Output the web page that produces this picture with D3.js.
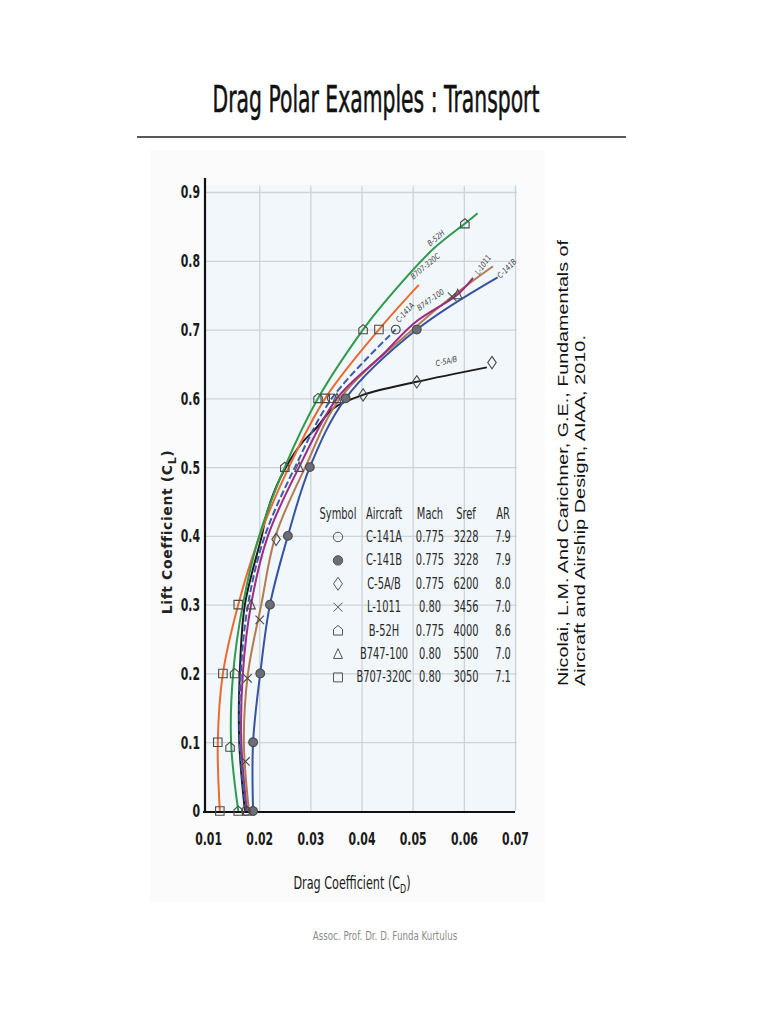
<!DOCTYPE html>
<html>
<head>
<meta charset="utf-8">
<script src="https://cdn.jsdelivr.net/npm/d3@7"></script>
<style>
  body { margin: 0; background: #fff; }
  svg { display: block; }
</style>
</head>
<body>
<svg id="chart"></svg>
<script>
// drag polars, each point is [CD, CL]
let b52h     = [[0.0159,0],[0.0145,0.1],[0.0149,0.2],[0.0168,0.3],[0.0200,0.4],[0.0250,0.5],[0.0315,0.6],[0.0403,0.7],[0.0442,0.737],[0.0540,0.817],[0.0602,0.854],[0.0627,0.869]];
let b707     = [[0.0123,0],[0.0119,0.1],[0.0129,0.2],[0.0159,0.3],[0.0201,0.4],[0.0258,0.5],[0.0329,0.6],[0.0434,0.7],[0.0512,0.765]];
let c141a    = [[0.0174,0],[0.0162,0.1],[0.0164,0.2],[0.0178,0.3],[0.0211,0.4],[0.0270,0.5],[0.0342,0.6],[0.0467,0.7]];
let b747     = [[0.0176,0],[0.0165,0.1],[0.0168,0.2],[0.0184,0.3],[0.0217,0.4],[0.0278,0.5],[0.0352,0.6],[0.0442,0.664],[0.0504,0.71],[0.0588,0.751],[0.0618,0.775]];
let l1011    = [[0.0180,0],[0.0170,0.1],[0.0178,0.2],[0.0204,0.3],[0.0232,0.4],[0.0290,0.5],[0.0358,0.6],[0.0500,0.7],[0.0577,0.748],[0.0657,0.792]];
let c141b    = [[0.0188,0],[0.0188,0.1],[0.0202,0.2],[0.0221,0.3],[0.0256,0.4],[0.0299,0.5],[0.0369,0.6],[0.0508,0.7],[0.0666,0.776]];
let c5ab     = [[0.0172,0],[0.0161,0.1],[0.0162,0.2],[0.0172,0.3],[0.0205,0.4],[0.0216,0.436],[0.0241,0.484],[0.0280,0.532],[0.0313,0.558],[0.0344,0.585],[0.0403,0.605],[0.0508,0.624],[0.0645,0.645]];

// symbol positions on each curve, [CD, CL]
let b52hMarks  = [[0.0159,0],[0.0143,0.093],[0.0152,0.2],[0.0250,0.5],[0.0315,0.6],[0.0403,0.7],[0.0602,0.854]];
let b707Marks  = [[0.0123,0],[0.0119,0.1],[0.0129,0.2],[0.0159,0.3],[0.0329,0.6],[0.0434,0.7]];
let c141aMarks = [[0.0174,0],[0.0342,0.6],[0.0467,0.7]];
let b747Marks  = [[0.0176,0],[0.0184,0.3],[0.0278,0.5],[0.0352,0.6],[0.0588,0.751]];
let l1011Marks = [[0.0173,0.072],[0.0177,0.193],[0.0201,0.278],[0.0577,0.748]];
let c141bMarks = [[0.0188,0],[0.0188,0.1],[0.0202,0.2],[0.0221,0.3],[0.0256,0.4],[0.0299,0.5],[0.0369,0.6],[0.0508,0.7]];
let c5abMarks  = [[0.0233,0.395],[0.0403,0.605],[0.0508,0.624],[0.0655,0.652]];

// handwritten curve labels: [CD, CL, angle]
let labelSpots = {
  'B-52H':     [0.0549, 0.830, -40],
  'B707-320C': [0.0528, 0.789, -40],
  'C-141A':    [0.0489, 0.722, -48],
  'B747-100':  [0.0538, 0.740, -35],
  'L-1011':    [0.0642, 0.792, -55],
  'C-141B':    [0.0688, 0.786, -45],
  'C-5A/B':    [0.0567, 0.650, -12]
};

// table in the middle of the plot
let tableHeads  = ['Symbol', 'Aircraft', 'Mach', 'Sref', 'AR'];
let tableCraft  = ['C-141A', 'C-141B', 'C-5A/B', 'L-1011', 'B-52H', 'B747-100', 'B707-320C'];
let tableMach   = ['0.775', '0.775', '0.775', '0.80', '0.775', '0.80', '0.80'];
let tableSref   = ['3228', '3228', '6200', '3456', '4000', '5500', '3050'];
let tableAR     = ['7.9', '7.9', '8.0', '7.0', '8.6', '7.0', '7.1'];

let xTicks = [0.01, 0.02, 0.03, 0.04, 0.05, 0.06, 0.07];
let yTicks = [0, 0.1, 0.2, 0.3, 0.4, 0.5, 0.6, 0.7, 0.8, 0.9];

let width = 768;
let height = 1024;
let sans = "'DejaVu Sans', sans-serif";

let svg = d3.select('#chart')
            .attr('width', width)
            .attr('height', height);

// marker shapes
let pentagon = {
  draw(ctx, size) {
    let r = Math.sqrt(size) / 2;
    ctx.moveTo(0, -r * 1.15);
    ctx.lineTo(r, -r * 0.3);
    ctx.lineTo(r, r);
    ctx.lineTo(-r, r);
    ctx.lineTo(-r, -r * 0.3);
    ctx.closePath();
  }
};
let tallDiamond = {
  draw(ctx, size) {
    let r = Math.sqrt(size) / 2;
    ctx.moveTo(0, -r * 1.45);
    ctx.lineTo(r, 0);
    ctx.lineTo(0, r * 1.45);
    ctx.lineTo(-r, 0);
    ctx.closePath();
  }
};
let cross = {
  draw(ctx, size) {
    let r = Math.sqrt(size) / 2;
    ctx.moveTo(-r, -r);
    ctx.lineTo(r, r);
    ctx.moveTo(r, -r);
    ctx.lineTo(-r, r);
  }
};
let triangle = {
  draw(ctx, size) {
    let r = Math.sqrt(size) / 2;
    ctx.moveTo(0, -r * 1.2);
    ctx.lineTo(r, r);
    ctx.lineTo(-r, r);
    ctx.closePath();
  }
};
let square = {
  draw(ctx, size) {
    let r = Math.sqrt(size) / 2;
    ctx.rect(-r, -r, 2 * r, 2 * r);
  }
};

let series = [
  { name: 'C-5A/B',    pts: c5ab,  marks: c5abMarks,  color: '#1c1c1c', dash: null,  shape: tallDiamond, fill: 'none' },
  { name: 'C-141B',    pts: c141b, marks: c141bMarks, color: '#3552a3', dash: null,  shape: d3.symbolCircle, fill: '#6b6e78' },
  { name: 'L-1011',    pts: l1011, marks: l1011Marks, color: '#b47b50', dash: null,  shape: cross, fill: 'none' },
  { name: 'B747-100',  pts: b747,  marks: b747Marks,  color: '#9d2a84', dash: null,  shape: triangle, fill: 'none' },
  { name: 'C-141A',    pts: c141a, marks: c141aMarks, color: '#3d5ca8', dash: '7,3', shape: d3.symbolCircle, fill: 'none' },
  { name: 'B707-320C', pts: b707,  marks: b707Marks,  color: '#ec6a2e', dash: null,  shape: square, fill: 'none' },
  { name: 'B-52H',     pts: b52h,  marks: b52hMarks,  color: '#2f9a4c', dash: null,  shape: pentagon, fill: 'none' }
];

// legend order follows the table
let legendShapes = [d3.symbolCircle, d3.symbolCircle, tallDiamond, cross, pentagon, triangle, square];
let legendFills  = ['none', '#6b6e78', 'none', 'none', 'none', 'none', 'none'];

let xScale = d3.scaleLinear().domain([0.0094, 0.07]).range([205, 515]);
let yScale = d3.scaleLinear().domain([0, 0.9]).range([811, 192]);

// title
svg.append('text')
   .attr('transform', 'translate(376, 112) scale(0.55, 1)')
   .attr('text-anchor', 'middle')
   .style('font-family', sans)
   .style('font-size', '37px')
   .style('fill', '#111')
   .style('stroke', '#111')
   .style('stroke-width', 0.6)
   .text('Drag Polar Examples : Transport');

svg.append('line')
   .attr('x1', 137).attr('x2', 626)
   .attr('y1', 137).attr('y2', 137)
   .attr('stroke', '#222')
   .attr('stroke-width', 1.6);

// scanned page area
svg.append('rect')
   .attr('x', 150).attr('y', 150)
   .attr('width', 395).attr('height', 752)
   .attr('fill', '#fbfbfb');

// plot background
svg.append('rect')
   .attr('x', xScale.range()[0]).attr('y', yScale(0.9) - 7)
   .attr('width', xScale(0.07) - xScale.range()[0] + 2)
   .attr('height', yScale(0) - yScale(0.9) + 9)
   .attr('fill', '#f1f7fb');

// grid
let gridX = d3.axisBottom(xScale)
              .tickValues(xTicks.slice(1))
              .tickSize(-(yScale(0) - yScale(0.9) + 6))
              .tickFormat('');
svg.append('g')
   .attr('class', 'grid')
   .attr('transform', `translate(0, ${yScale(0)})`)
   .call(gridX);

let gridY = d3.axisLeft(yScale)
              .tickValues(yTicks.slice(1))
              .tickSize(-(xScale(0.07) - xScale.range()[0] + 2))
              .tickFormat('');
svg.append('g')
   .attr('class', 'grid')
   .attr('transform', `translate(${xScale.range()[0]}, 0)`)
   .call(gridY);

svg.selectAll('.grid .domain').remove();
svg.selectAll('.grid line')
   .attr('stroke', '#cfd3d6')
   .attr('stroke-width', 1.3);

// axes
let xAxis = d3.axisBottom(xScale)
              .tickValues(xTicks)
              .tickSize(0)
              .tickPadding(0)
              .tickFormat(d3.format('.2f'));
let xg = svg.append('g')
            .attr('id', 'x-axis')
            .attr('transform', `translate(0, ${yScale(0) + 26})`)
            .call(xAxis);
xg.select('.domain').remove();

let yAxis = d3.axisLeft(yScale)
              .tickValues(yTicks)
              .tickSize(0)
              .tickPadding(0)
              .tickFormat(d => d === 0 ? '0' : d3.format('.1f')(d));
let yg = svg.append('g')
            .attr('id', 'y-axis')
            .attr('transform', `translate(${xScale.range()[0] - 5}, 0)`)
            .call(yAxis);
yg.select('.domain').remove();

// the scan uses a condensed face, squeeze the glyphs sideways
svg.selectAll('#x-axis text, #y-axis text')
   .attr('transform', 'scale(0.64, 1)')
   .style('font-family', sans)
   .style('font-weight', 'bold')
   .style('font-size', '17px')
   .style('fill', '#1a1a1a');
yg.selectAll('text').attr('dy', '0.35em');
xg.selectAll('text').attr('dy', '0.45em');

svg.append('line')
   .attr('x1', xScale.range()[0]).attr('x2', xScale.range()[0])
   .attr('y1', 178).attr('y2', yScale(0) + 2)
   .attr('stroke', '#111').attr('stroke-width', 2.2);
svg.append('line')
   .attr('x1', xScale.range()[0] - 2).attr('x2', xScale(0.07))
   .attr('y1', yScale(0) + 1).attr('y2', yScale(0) + 1)
   .attr('stroke', '#111').attr('stroke-width', 2.2);

// axis titles
let yTitle = svg.append('text')
                .attr('transform', `translate(172, 532) rotate(-90)`)
                .attr('text-anchor', 'middle')
                .style('font-family', sans)
                .style('font-weight', 'bold')
                .style('font-size', '14px')
                .style('letter-spacing', '0.6px')
                .style('fill', '#222');
yTitle.append('tspan').text('Lift Coefficient (C');
yTitle.append('tspan').attr('dy', 4).style('font-size', '11px').text('L');
yTitle.append('tspan').attr('dy', -4).text(')');

let xTitle = svg.append('text')
                .attr('transform', 'translate(352, 889) scale(0.66, 1)')
                .attr('text-anchor', 'middle')
                .style('font-family', sans)
                .style('font-size', '17px')
                .style('fill', '#1a1a1a');
xTitle.append('tspan').text('Drag Coefficient (C');
xTitle.append('tspan').attr('dy', 4).style('font-size', '12px').text('D');
xTitle.append('tspan').attr('dy', -4).text(')');

// curves
let line = d3.line()
             .x(d => xScale(d[0]))
             .y(d => yScale(d[1]))
             .curve(d3.curveCatmullRom.alpha(0.5));

let curves = svg.append('g').attr('id', 'curves');
curves.selectAll('path')
      .data(series)
      .enter()
      .append('path')
      .attr('d', d => line(d.pts))
      .attr('fill', 'none')
      .attr('stroke', d => d.color)
      .attr('stroke-width', 2)
      .attr('stroke-dasharray', d => d.dash);

// symbols on curves
let sym = d3.symbol();
series.forEach(s => {
  curves.append('g')
        .selectAll('path')
        .data(s.marks)
        .enter()
        .append('path')
        .attr('transform', d => `translate(${xScale(d[0])}, ${yScale(d[1])})`)
        .attr('d', sym.type(s.shape).size(s.shape === d3.symbolCircle ? 60 : 72)())
        .attr('fill', s.fill)
        .attr('stroke', '#4a4a4a')
        .attr('stroke-width', 1.1);
});

// curve labels
Object.entries(labelSpots).forEach(([name, p]) => {
  svg.append('text')
     .attr('transform', `translate(${xScale(p[0])}, ${yScale(p[1])}) rotate(${p[2]}) scale(0.8, 1)`)
     .attr('text-anchor', 'middle')
     .style('font-family', sans)
     .style('font-style', 'italic')
     .style('font-size', '8px')
     .style('fill', '#444')
     .text(name);
});

// table
let table = svg.append('g')
               .attr('id', 'table')
               .style('font-family', sans)
               .style('font-size', '15px')
               .style('fill', '#2a2a2a');
let colX = [338, 384, 430, 466, 503];
let rowY = i => 542 + i * 23.4;
let squeeze = 'scale(0.66, 1)';

table.selectAll('.head')
     .data(tableHeads)
     .enter()
     .append('text')
     .attr('class', 'head')
     .attr('transform', (d, i) => `translate(${colX[i]}, 519) ${squeeze}`)
     .attr('text-anchor', 'middle')
     .text(d => d);

[tableCraft, tableMach, tableSref, tableAR].forEach((col, c) => {
  table.append('g')
       .selectAll('text')
       .data(col)
       .enter()
       .append('text')
       .attr('transform', (d, i) => `translate(${colX[c + 1]}, ${rowY(i)}) ${squeeze}`)
       .attr('text-anchor', 'middle')
       .text(d => d);
});

table.append('g')
     .selectAll('path')
     .data(tableCraft)
     .enter()
     .append('path')
     .attr('transform', (d, i) => `translate(${colX[0]}, ${rowY(i) - 5})`)
     .attr('d', (d, i) => sym.type(legendShapes[i]).size(legendShapes[i] === d3.symbolCircle ? 70 : 80)())
     .attr('fill', (d, i) => legendFills[i])
     .attr('stroke', '#555')
     .attr('stroke-width', 1);

// citation, turned on its side
let cite = svg.append('g')
              .style('font-family', "'Liberation Sans', Arial, sans-serif")
              .style('font-size', '14px')
              .style('fill', '#111');
cite.append('text')
    .attr('transform', 'translate(568, 686) rotate(-90)')
    .attr('textLength', 446)
    .attr('lengthAdjust', 'spacingAndGlyphs')
    .text('Nicolai, L.M. And Carichner, G.E., Fundamentals of');
cite.append('text')
    .attr('transform', 'translate(585, 686) rotate(-90)')
    .attr('textLength', 351)
    .attr('lengthAdjust', 'spacingAndGlyphs')
    .text('Aircraft and Airship Design, AIAA, 2010.');

// footer
svg.append('text')
   .attr('transform', 'translate(385, 940) scale(0.67, 1)')
   .attr('text-anchor', 'middle')
   .style('font-family', sans)
   .style('font-size', '13px')
   .style('fill', '#8c8c8c')
   .text('Assoc. Prof. Dr. D. Funda Kurtulus');
</script>
</body>
</html>
